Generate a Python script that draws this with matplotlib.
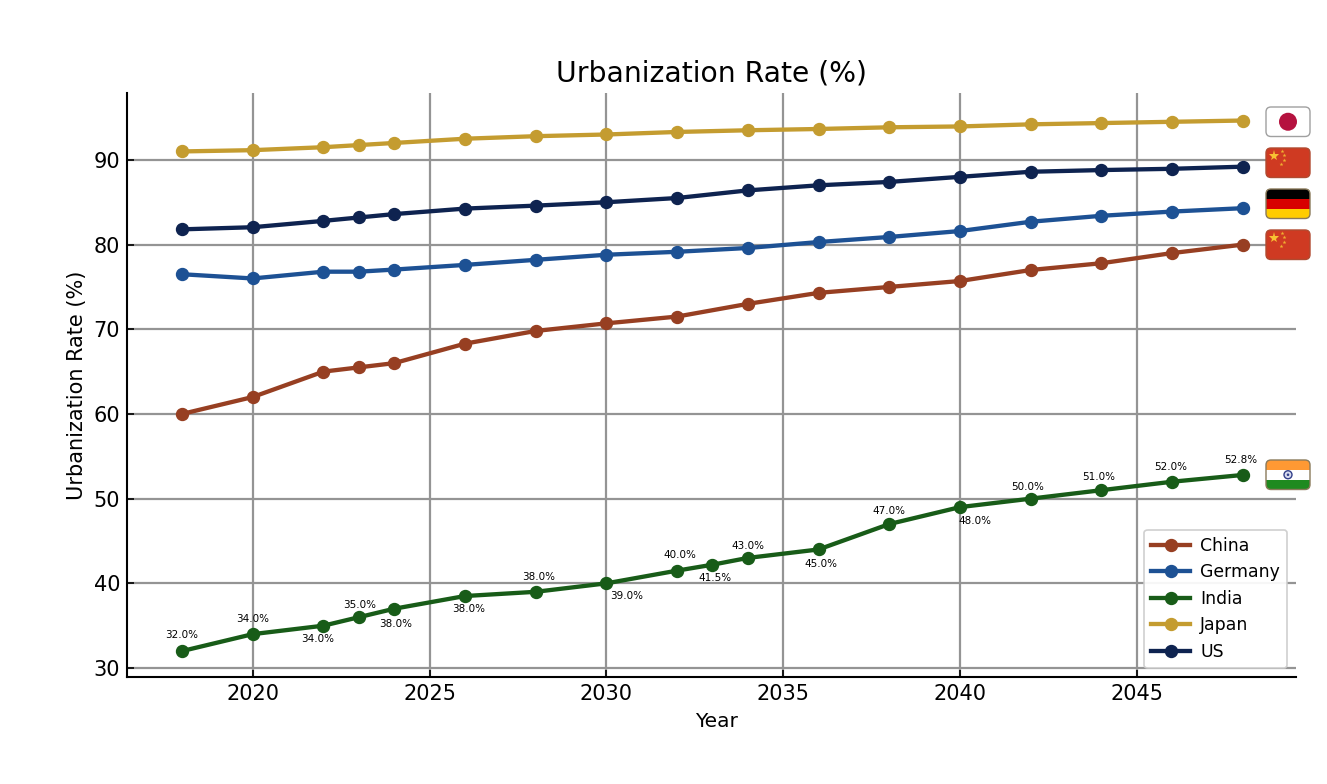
import matplotlib
matplotlib.use("Agg")
import matplotlib.pyplot as plt
from matplotlib.patches import FancyBboxPatch, Rectangle, Circle

years = [2018, 2020, 2022, 2023, 2024, 2026, 2028, 2030, 2032, 2034, 2036, 2038, 2040, 2042, 2044, 2046, 2048]
india_years = [2018, 2020, 2022, 2023, 2024, 2026, 2028, 2030, 2032, 2033, 2034, 2036, 2038, 2040, 2042, 2044, 2046, 2048]
china = [60, 62, 65, 65.5, 66, 68.3, 69.8, 70.7, 71.5, 73, 74.3, 75, 75.7, 77, 77.8, 79, 80]
germany = [76.5, 76, 76.8, 76.8, 77.05, 77.6, 78.2, 78.8, 79.15, 79.6, 80.3, 80.9, 81.6, 82.7, 83.4, 83.9, 84.3]
india = [32, 34, 35, 36, 37, 38.5, 39, 40, 41.5, 42.2, 43, 44, 47, 49, 50, 51, 52, 52.8]
japan = [91, 91.15, 91.5, 91.75, 92, 92.5, 92.8, 93, 93.3, 93.5, 93.65, 93.85, 93.95, 94.2, 94.35, 94.5, 94.65]
us = [81.8, 82.05, 82.8, 83.2, 83.6, 84.25, 84.6, 85, 85.5, 86.4, 87, 87.4, 88, 88.6, 88.8, 88.95, 89.2]
india_labels = ["32.0%", "34.0%", "34.0%", "35.0%", "38.0%", "38.0%", "38.0%", "39.0%", "40.0%", "41.5%",
                "43.0%", "45.0%", "47.0%", "48.0%", "50.0%", "51.0%", "52.0%", "52.8%"]
label_dx = [0, 0, -6, 1, 1, 4, 3, 20, 3, 3, 0, 2, 0, 15, -3, -3, -2, -2]
label_dy = [16, 15, -13, 12, -15, -13, 15, -13, 16, -13, 12, -15, 13, -14, 12, 13, 15, 15]

W, H = 1327, 784
fig = plt.figure(figsize=(W / 100, H / 100), dpi=100, facecolor="white")
ax = fig.add_axes([127 / W, 1 - 677 / H, (1296 - 127) / W, (677 - 93) / H])
ax.set_xlim(2016.446, 2049.5)
ax.set_ylim(28.94, 97.9)

series = [("China", years, china, "#973f22"), ("Germany", years, germany, "#1d5194"),
          ("India", india_years, india, "#185c18"), ("Japan", years, japan, "#c49c30"),
          ("US", years, us, "#0e2350")]
for name, xs, ys, c in series:
    ax.plot(xs, ys, color=c, lw=3.1, marker="o", ms=8.6, label=name, zorder=3)

for x, y, t, dx, dy in zip(india_years, india, india_labels, label_dx, label_dy):
    ax.annotate(t, (x, y), xytext=(dx, dy), textcoords="offset pixels",
                ha="center", va="center", fontsize=7.5, zorder=4)

ax.grid(True, color="#949494", lw=1.6)
ax.set_axisbelow(True)
ax.spines[["top", "right"]].set_visible(False)
ax.spines[["left", "bottom"]].set_linewidth(1.5)
ax.set_xticks([2020, 2025, 2030, 2035, 2040, 2045])
ax.set_yticks([30, 40, 50, 60, 70, 80, 90])
ax.tick_params(labelsize=15, width=1.2, length=5, direction="in", pad=5)
ax.set_xlabel("Year", fontsize=14.5, labelpad=6, x=(716 - 127) / (1296 - 127))
ax.set_ylabel("Urbanization Rate (%)", fontsize=15, labelpad=4.5)
ax.set_title("Urbanization Rate (%)", fontsize=20.3, pad=8)
leg = ax.legend(loc="lower right", bbox_to_anchor=((1287 - 127) / 1169, (677 - 668) / 584), fontsize=12.4,
                framealpha=0.92, borderaxespad=0, borderpad=0.4, labelspacing=0.5,
                handlelength=2.25, handletextpad=0.6)
leg.get_frame().set_linewidth(1.2)

ov = fig.add_axes([0, 0, 1, 1], facecolor="none")
ov.set_xlim(0, W)
ov.set_ylim(H, 0)
ov.axis("off")


def flag(top, bands=None, kind=None, edge="#8a7a5a"):
    x0, w, h = 1266, 44, 29.5
    clip = FancyBboxPatch((x0, top), w, h, boxstyle="round,pad=0,rounding_size=5", fc="white", ec="none", zorder=5)
    ov.add_patch(clip)
    if bands:
        bh = h / len(bands)
        for i, c in enumerate(bands):
            r = Rectangle((x0, top + i * bh), w, bh + 0.5, fc=c, ec="none", zorder=6)
            ov.add_patch(r)
            r.set_clip_path(clip)
    if kind == "japan":
        ov.add_patch(Circle((x0 + 22, top + h / 2), 9, fc="#b5123f", ec="none", zorder=7))
    if kind == "india":
        ov.add_patch(Circle((x0 + 22, top + h / 2), 4, fc="#d8dcf0", ec="#33408a", lw=1.0, zorder=7))
        ov.add_patch(Circle((x0 + 22, top + h / 2), 1.3, fc="#33408a", ec="none", zorder=7))
    if kind == "china":
        ov.plot([x0 + 8], [top + 8], marker="*", ms=8, color="#f7c232", mew=0, zorder=7)
        for dx, dy in [(16, 3), (18, 7), (18, 12), (15, 16)]:
            ov.plot([x0 + dx], [top + dy], marker="*", ms=3, color="#f0b030", mew=0, zorder=7)
    ov.add_patch(FancyBboxPatch((x0, top), w, h, boxstyle="round,pad=0,rounding_size=5", fc="none",
                                ec=edge, lw=1.0, zorder=8))


flag(107, kind="japan", edge="#a0a0a0")
flag(148, bands=["#cf3a22"], kind="china", edge="#b04a30")
flag(189, bands=["#000000", "#d80000", "#ffcc00"])
flag(230, bands=["#cf3a22"], kind="china", edge="#b04a30")
flag(460, bands=["#ff9933", "#ffffff", "#1f8a1f"], kind="india")

fig.savefig("out.png", dpi=100)
